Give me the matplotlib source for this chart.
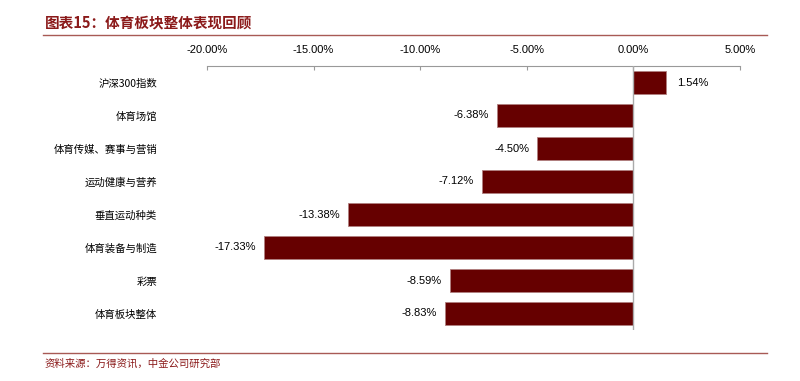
import matplotlib.pyplot as plt
from matplotlib.lines import Line2D

plt.rcParams['font.family'] = ['Liberation Sans', 'Noto Sans CJK SC', 'DejaVu Sans']

categories = ['沪深300指数', '体育场馆', '体育传媒、赛事与营销', '运动健康与营养',
              '垂直运动种类', '体育装备与制造', '彩票', '体育板块整体']
values = [1.54, -6.38, -4.50, -7.12, -13.38, -17.33, -8.59, -8.83]
xticks = [-20, -15, -10, -5, 0, 5]

bar_color = '#660000'
red = '#8B1A1A'

fig = plt.figure(figsize=(8, 3.81), dpi=100)
ax = fig.add_axes([207 / 800, 1 - 330 / 381, 533 / 800, 264 / 381])

y = range(len(categories))
ax.barh(y, values, height=0.7, color=bar_color, edgecolor='#b08080', linewidth=0.6, zorder=2)
ax.set_ylim(len(categories) - 0.5, -0.5)
ax.set_xlim(-20, 5)
ax.axvline(0, color='#aaaaaa', lw=1, zorder=3)

for i, v in enumerate(values):
    if v >= 0:
        ax.annotate(f'{v:.2f}%', (v, i), xytext=(8, 0), textcoords='offset points',
                    ha='left', va='center', fontsize=8)
    else:
        ax.annotate(f'{v:.2f}%', (v, i), xytext=(-6, 0), textcoords='offset points',
                    ha='right', va='center', fontsize=8)

ax.xaxis.tick_top()
ax.set_xticks(xticks)
ax.set_xticklabels([f'{t:.2f}%' for t in xticks], fontsize=8)
ax.tick_params(axis='x', direction='in', length=3, color='#999999', pad=8)
ax.set_yticks(list(y))
ax.set_yticklabels(categories, fontsize=7.5, family=['Noto Sans CJK SC', 'DejaVu Sans'])
ax.tick_params(axis='y', length=0, pad=36)

for s in ['left', 'right', 'bottom']:
    ax.spines[s].set_visible(False)
ax.spines['top'].set_color('#999999')

fig.text(45 / 800, 1 - 22 / 381, '图表15：体育板块整体表现回顾', color=red, fontsize=10.5,
         fontweight='bold', style='italic', va='center', ha='left',
         family=['Noto Sans CJK SC', 'DejaVu Sans'])
fig.add_artist(Line2D([43 / 800, 767 / 800], [1 - 35 / 381] * 2, color='#a85a55', lw=1))
fig.add_artist(Line2D([43 / 800, 767 / 800], [1 - 353 / 381] * 2, color='#a85a55', lw=1))
fig.text(45 / 800, 1 - 364 / 381, '资料来源：万得资讯，中金公司研究部', color=red, fontsize=7.5,
         style='italic', va='center', ha='left', family=['Noto Sans CJK SC', 'DejaVu Sans'])

fig.savefig('out.png', dpi=100)
